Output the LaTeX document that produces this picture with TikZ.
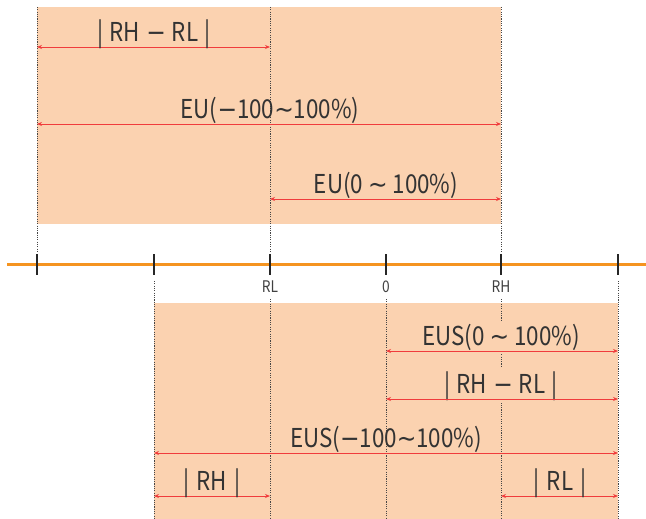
\documentclass[tikz,border=0pt]{standalone}
\usepackage{fontspec}
\setmainfont{Noto Sans CJK KR}[FakeStretch=0.86]
\newfontfamily\symfont{DejaVu Sans}[FakeStretch=0.9]
\newcommand{\tld}{{\symfont ∼}}
\newcommand{\mns}{{\symfont −}}
\newcommand{\gp}{\hspace{6pt}}
\usetikzlibrary{arrows.meta}
\definecolor{peach}{RGB}{251,210,176}
\definecolor{axisorange}{RGB}{245,148,32}
\definecolor{arrred}{RGB}{240,60,60}
\definecolor{dotgray}{RGB}{70,70,70}
\tikzset{
  band/.style={fill=peach, draw=none},
  guide/.style={draw=dotgray, line width=0.9pt, dash pattern=on 1.1pt off 1.2pt},
  span/.style={draw=arrred, line width=0.9pt, {Stealth[length=5pt,width=4pt]}-{Stealth[length=5pt,width=4pt]}},
  lab/.style={font=\fontsize{26}{26}\selectfont, text=black!80, inner sep=0pt, anchor=base},
  labfill/.style={lab, fill=peach, inner ysep=3pt},
  ticklab/.style={font=\fontsize{16}{16}\selectfont, text=black!75, inner sep=0pt},
  tick/.style={draw=black!85, line width=1.6pt},
  axis/.style={draw=axisorange, line width=3pt}
}
\begin{document}
\begin{tikzpicture}[x=1pt,y=-1pt]
\useasboundingbox (0,0) rectangle (646,519);
% bands
\fill[band] (37,7) rectangle (501,224);
\fill[band] (154,303) rectangle (618,519);
% axis and ticks
\coordinate (axL) at (7,264);
\coordinate (axR) at (646,264);
\draw[axis] (axL) -- (axR);
\foreach \n/\x in {a/37,b/154,c/270,d/386,e/501,f/618}{
  \coordinate (t\n) at (\x,264);
  \coordinate (t\n top) at (\x,254);
  \coordinate (t\n bot) at (\x,275);
  \draw[tick] (t\n top) -- (t\n bot);
}
% guide lines upper
\coordinate (ua1) at (37,7);   \coordinate (ua2) at (37,251);
\coordinate (uc1) at (270,7);  \coordinate (uc2) at (270,251);
\coordinate (ue1) at (501,7);  \coordinate (ue2) at (501,251);
\draw[guide] (ua1) -- (ua2);
\draw[guide] (uc1) -- (uc2);
\draw[guide] (ue1) -- (ue2);
% guide lines lower
\coordinate (lb1) at (154,281); \coordinate (lb2) at (154,519);
\coordinate (lc1) at (270,299); \coordinate (lc2) at (270,519);
\coordinate (ld1) at (386,299); \coordinate (ld2) at (386,519);
\coordinate (le1) at (501,299); \coordinate (le2) at (501,519);
\coordinate (lf1) at (618,281); \coordinate (lf2) at (618,519);
\draw[guide] (lb1) -- (lb2);
\draw[guide] (lc1) -- (lc2);
\draw[guide] (ld1) -- (ld2);
\draw[guide] (le1) -- (le2);
\draw[guide] (lf1) -- (lf2);
% tick labels
\node[ticklab] (rl) at (270,287) {RL};
\node[ticklab] (zero) at (386,287) {0};
\node[ticklab] (rh) at (501,287) {RH};
% upper spans
\coordinate (s1a) at (37,47);  \coordinate (s1b) at (270,47);
\coordinate (s2a) at (37,124); \coordinate (s2b) at (501,124);
\coordinate (s3a) at (270,199);\coordinate (s3b) at (501,199);
\draw[span] (s1a) -- (s1b);
\draw[span] (s2a) -- (s2b);
\draw[span] (s3a) -- (s3b);
\node[lab] (l1) at (154,42) {|\gp RH\gp\mns\gp RL\gp |};
\node[lab] (l2) at (270,118) {EU(\mns100\tld100\%)};
\node[lab] (l3) at (386,193) {EU(0 \tld{} 100\%)};
% lower spans
\coordinate (s4a) at (386,351); \coordinate (s4b) at (618,351);
\coordinate (s5a) at (386,399); \coordinate (s5b) at (618,399);
\coordinate (s6a) at (154,453); \coordinate (s6b) at (618,453);
\coordinate (s7a) at (154,496); \coordinate (s7b) at (270,496);
\coordinate (s8a) at (501,496); \coordinate (s8b) at (618,496);
\node[labfill] (l4) at (501,345) {EUS(0 \tld{} 100\%)};
\node[labfill] (l5) at (501,393) {|\gp RH\gp\mns\gp RL\gp |};
\draw[span] (s4a) -- (s4b);
\draw[span] (s5a) -- (s5b);
\draw[span] (s6a) -- (s6b);
\draw[span] (s7a) -- (s7b);
\draw[span] (s8a) -- (s8b);
\node[lab] (l6) at (386,447) {EUS(\mns100\tld100\%)};
\node[lab] (l7) at (212,490) {|\hspace{7.5pt}RH\hspace{7.5pt}|};
\node[lab] (l8) at (560,490) {|\hspace{7.5pt}RL\hspace{7.5pt}|};
\end{tikzpicture}
\end{document}
